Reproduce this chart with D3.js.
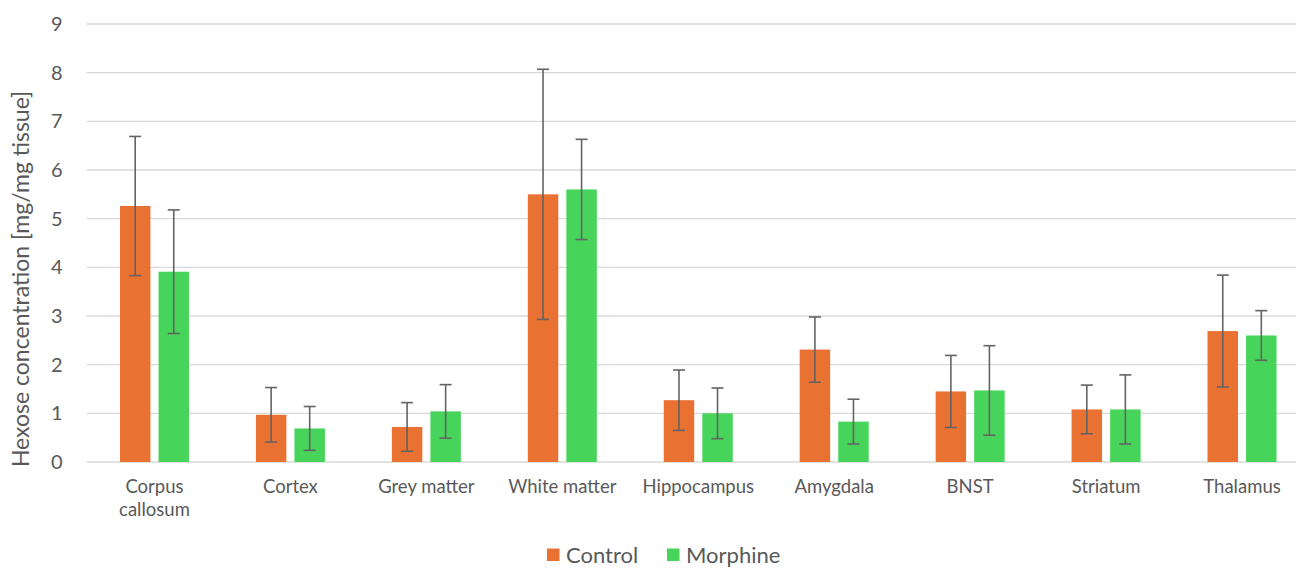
<!DOCTYPE html>
<html>
<head>
<meta charset="utf-8">
<script src="https://cdn.jsdelivr.net/npm/d3@7"></script>
<style>
  body { margin: 0; background: #fff; }
  svg text { font-family: Lato, "Open Sans", sans-serif; fill: #595959; }
</style>
</head>
<body>
<script>
// chart data
var regions = ["Corpus callosum", "Cortex", "Grey matter", "White matter", "Hippocampus",
               "Amygdala", "BNST", "Striatum", "Thalamus"];
var seriesNames = ["Control", "Morphine"];
var controlMean = [5.26, 0.97, 0.72, 5.50, 1.27, 2.31, 1.45, 1.08, 2.69];
var controlErr  = [1.43, 0.56, 0.50, 2.57, 0.62, 0.67, 0.74, 0.50, 1.15];
var morphineMean = [3.91, 0.69, 1.04, 5.60, 1.00, 0.83, 1.47, 1.08, 2.60];
var morphineErr  = [1.27, 0.45, 0.55, 1.03, 0.52, 0.46, 0.92, 0.71, 0.51];
var yTicks = [0, 1, 2, 3, 4, 5, 6, 7, 8, 9];

var svgWidth = 1296;
var svgHeight = 569;

var margin = { top: 24, right: -14, bottom: 107, left: 86.5 };
var width = svgWidth - margin.left - margin.right;
var height = svgHeight - margin.top - margin.bottom;

var colors = { Control: "#E97132", Morphine: "#47D45A" };

var svg = d3.select("body")
  .append("svg")
  .attr("width", svgWidth)
  .attr("height", svgHeight);

var chartGroup = svg.append("g")
  .attr("transform", `translate(${margin.left}, ${margin.top})`);

// build rows for the bars
var rows = regions.map(function(r, i) {
  return {
    region: r,
    values: [
      { key: "Control", mean: controlMean[i], err: controlErr[i] },
      { key: "Morphine", mean: morphineMean[i], err: morphineErr[i] }
    ]
  };
});

var x0 = d3.scaleBand().domain(regions).range([0, width]);
var bw = x0.bandwidth();
var x1 = d3.scaleBand().domain(seriesNames)
  .range([bw / 2 - 34.5, bw / 2 + 34.5])
  .paddingInner(0.21);

var yScale = d3.scaleLinear().domain([0, 9]).range([height, 0]);

// gridlines
chartGroup.append("g")
  .selectAll("line")
  .data(yTicks)
  .enter()
  .append("line")
  .attr("x1", 0)
  .attr("x2", width)
  .attr("y1", d => yScale(d))
  .attr("y2", d => yScale(d))
  .attr("stroke", "#d9d9d9")
  .attr("stroke-width", 1.3);

// y tick labels
var leftAxis = d3.axisLeft(yScale).tickValues(yTicks).tickSize(0).tickPadding(24);
var yAxisG = chartGroup.append("g").call(leftAxis);
yAxisG.select(".domain").remove();
yAxisG.selectAll("text")
  .style("font-size", "20px")
  .style("fill", "#595959");

// bars
var groups = chartGroup.selectAll(".grp")
  .data(rows)
  .enter()
  .append("g")
  .attr("class", "grp")
  .attr("transform", d => `translate(${x0(d.region)}, 0)`);

groups.selectAll("rect")
  .data(d => d.values)
  .enter()
  .append("rect")
  .attr("x", d => x1(d.key))
  .attr("width", x1.bandwidth())
  .attr("y", d => yScale(d.mean))
  .attr("height", d => height - yScale(d.mean))
  .attr("fill", d => colors[d.key]);

// error bars
var errG = groups.selectAll(".err")
  .data(d => d.values)
  .enter()
  .append("g")
  .attr("class", "err")
  .attr("stroke", "#636363")
  .attr("stroke-width", 1.6);

errG.append("line")
  .attr("x1", d => x1(d.key) + x1.bandwidth() / 2)
  .attr("x2", d => x1(d.key) + x1.bandwidth() / 2)
  .attr("y1", d => yScale(d.mean + d.err))
  .attr("y2", d => yScale(d.mean - d.err));

errG.selectAll(".cap")
  .data(d => [d.mean + d.err, d.mean - d.err].map(v => ({ v: v, cx: x1(d.key) + x1.bandwidth() / 2 })))
  .enter()
  .append("line")
  .attr("x1", d => d.cx - 6)
  .attr("x2", d => d.cx + 6)
  .attr("y1", d => yScale(d.v))
  .attr("y2", d => yScale(d.v));

// category labels (wrap long names)
var bottomAxis = d3.axisBottom(x0).tickSize(0).tickPadding(18);
var xAxisG = chartGroup.append("g")
  .attr("transform", `translate(0, ${height})`)
  .call(bottomAxis);
xAxisG.select(".domain").remove();
xAxisG.selectAll("text")
  .style("font-size", "18.5px")
  .style("fill", "#595959")
  .each(function(d) {
    var t = d3.select(this);
    if (d.length > 13) {
      var words = d.split(" ");
      t.text(null);
      words.forEach(function(w, i) {
        t.append("tspan").attr("x", 0).attr("dy", i === 0 ? "0.71em" : "1.24em").text(w);
      });
      t.attr("dy", null);
    }
  });

// y axis title
svg.append("text")
  .attr("transform", "rotate(-90)")
  .attr("x", -279)
  .attr("y", 29)
  .attr("text-anchor", "middle")
  .style("font-size", "23px")
  .text("Hexose concentration [mg/mg tissue]");

// legend
var legend = svg.append("g").attr("transform", "translate(547, 555)");
var legendX = [0, 120];
seriesNames.forEach(function(s, i) {
  var lg = legend.append("g").attr("transform", `translate(${legendX[i]}, 0)`);
  lg.append("rect")
    .attr("x", 0).attr("y", -6.5)
    .attr("width", 12.5).attr("height", 12.5)
    .attr("fill", colors[s]);
  lg.append("text")
    .attr("x", 19).attr("y", 0)
    .attr("dy", "0.36em")
    .style("font-size", "22px")
    .text(s);
});
</script>
</body>
</html>
